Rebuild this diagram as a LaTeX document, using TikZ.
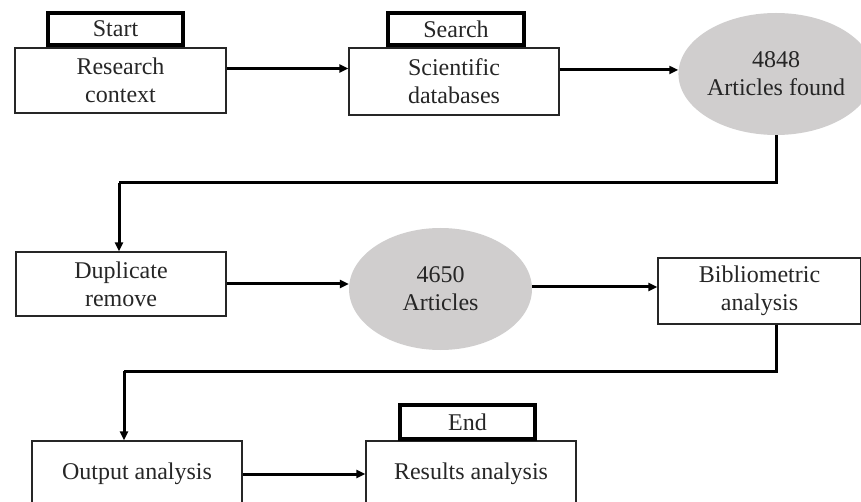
\documentclass[tikz,border=0pt]{standalone}
\usepackage{fontspec}
\setmainfont{Liberation Serif}
\usetikzlibrary{arrows.meta,calc,shapes.geometric}
\definecolor{ovalgray}{RGB}{208,206,206}
\begin{document}
\begin{tikzpicture}[x=1pt,y=-1pt,
  txt/.style={font=\fontsize{24}{28}\selectfont, align=center, inner sep=0pt, text=black!85},
  stepbox/.style={txt, draw=black!85, line width=1.4pt, fill=white},
  tabbox/.style={txt, draw=black, line width=3.2pt, fill=white},
  oval/.style={txt, ellipse, fill=ovalgray},
  arr/.style={line width=3pt, -{Triangle[length=9pt,width=8pt]}},
  conn/.style={line width=3pt}
]
\useasboundingbox (0,0) rectangle (861,502);
\clip (0,0) rectangle (861,502);

% top row
\node[tabbox, minimum width=135pt, minimum height=32pt] (start) at (115.5,29) {Start};
\node[stepbox, minimum width=211pt, minimum height=65pt] (research) at (120.5,80.5) {Research\\context};
\node[tabbox, minimum width=136pt, minimum height=32pt] (search) at (456,29) {Search};
\node[stepbox, minimum width=210pt, minimum height=67pt] (sci) at (454,81.5) {Scientific\\databases};
\node[oval, minimum width=172pt, minimum height=122pt] (e1) at (776,74) {4848\\Articles found};

% middle row
\node[stepbox, minimum width=210pt, minimum height=64pt] (dup) at (121,284) {Duplicate\\remove};
\node[oval, minimum width=183pt, minimum height=122pt] (e2) at (440.5,289) {4650\\Articles};
\node[stepbox, minimum width=203pt, minimum height=66pt] (bib) at (759.5,291) {Bibliometric\\analysis};

% bottom row
\node[stepbox, minimum width=210pt, minimum height=66pt] (output) at (137,474) {Output analysis};
\node[stepbox, minimum width=210pt, minimum height=66pt] (results) at (471,474) {Results analysis};
\node[tabbox, minimum width=135pt, minimum height=34pt] (end) at (467.5,422) {End};

% connectors
\draw[arr] ([yshift=12pt]research.east) -- ([yshift=12pt]research.east -| sci.west);
\draw[arr] ([yshift=11.5pt]sci.east) -- ([yshift=11.5pt]sci.east -| e1.west);

\coordinate (c1) at (119,183);
\draw[conn] (e1.south) |- (c1);
\draw[arr] (c1) -- (c1 |- dup.north);

\draw[arr] (dup.east) -- (dup.east -| e2.west);
\draw[arr] ([yshift=2pt]e2.east) -- ([yshift=2pt]e2.east -| bib.west);

\coordinate (c2) at (124,371);
\draw[conn] (bib.south -| e1.south) |- (c2);
\draw[arr] (c2) -- (c2 |- output.north);

\draw[arr] (output.east) -- (output.east -| results.west);
\end{tikzpicture}
\end{document}
